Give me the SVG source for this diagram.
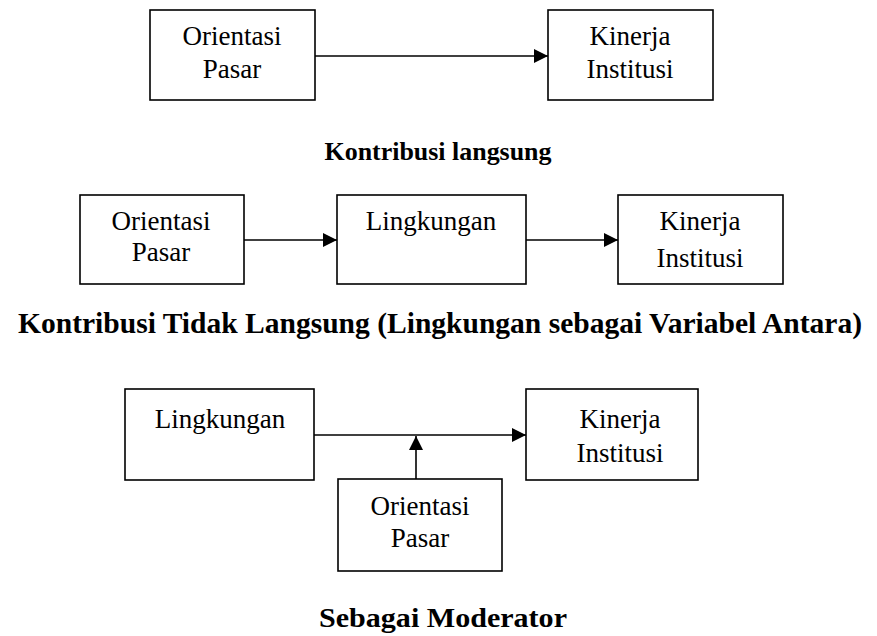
<svg xmlns="http://www.w3.org/2000/svg" width="877" height="636" viewBox="0 0 877 636">
<style>
.box{fill:#fff;stroke:#000;stroke-width:1.6}
.t{font-family:'Liberation Serif','DejaVu Serif','Times New Roman',serif;font-size:27px;fill:#000;text-anchor:middle}
.cap{font-family:'Liberation Serif','DejaVu Serif','Times New Roman',serif;font-weight:bold;fill:#000;text-anchor:middle}
.ln{stroke:#000;stroke-width:1.6;fill:none;marker-end:url(#ah)}
</style>
<defs>
<marker id="ah" markerUnits="userSpaceOnUse" markerWidth="15" markerHeight="15" refX="14" refY="7" orient="auto">
<path d="M0,0 L14,7 L0,14 Z" fill="#000"/>
</marker>
</defs>
<rect width="877" height="636" fill="#fff"/>

<g id="connectors">
<line class="ln" x1="315" y1="56" x2="548" y2="56"/>
<line class="ln" x1="244" y1="240" x2="337" y2="240"/>
<line class="ln" x1="526" y1="240" x2="618" y2="240"/>
<line class="ln" x1="314" y1="435" x2="526" y2="435"/>
<line class="ln" x1="416" y1="479" x2="416" y2="436"/>
</g>

<g id="r1-orientasi">
<rect class="box" x="150" y="10" width="165" height="90"/>
<text class="t" x="232" y="45" font-family="Liberation Serif, serif">Orientasi</text>
<text class="t" x="232" y="78" font-family="Liberation Serif, serif">Pasar</text>
</g>
<g id="r1-kinerja">
<rect class="box" x="548" y="10" width="165" height="90"/>
<text class="t" x="630" y="45">Kinerja</text>
<text class="t" x="630" y="78">Institusi</text>
</g>
<g id="cap1">
<text class="cap" x="438" y="160" font-size="26" textLength="227" lengthAdjust="spacingAndGlyphs">Kontribusi langsung</text>
</g>

<g id="r2-orientasi">
<rect class="box" x="80" y="195" width="164" height="89"/>
<text class="t" x="161" y="230">Orientasi</text>
<text class="t" x="161" y="261">Pasar</text>
</g>
<g id="r2-lingkungan">
<rect class="box" x="337" y="195" width="189" height="89"/>
<text class="t" x="431" y="230">Lingkungan</text>
</g>
<g id="r2-kinerja">
<rect class="box" x="618" y="195" width="165" height="89"/>
<text class="t" x="700" y="230" font-size="28">Kinerja</text>
<text class="t" x="700" y="267" font-size="28">Institusi</text>
</g>
<g id="cap2">
<text class="cap" x="440" y="333" font-size="29" textLength="844" lengthAdjust="spacingAndGlyphs">Kontribusi Tidak Langsung (Lingkungan sebagai Variabel Antara)</text>
</g>

<g id="r3-lingkungan">
<rect class="box" x="125" y="389" width="189" height="91"/>
<text class="t" x="220" y="428">Lingkungan</text>
</g>
<g id="r3-kinerja">
<rect class="box" x="526" y="389" width="172" height="91"/>
<text class="t" x="620" y="428" font-size="28">Kinerja</text>
<text class="t" x="620" y="462" font-size="28">Institusi</text>
</g>
<g id="r3-orientasi">
<rect class="box" x="338" y="479" width="164" height="92"/>
<text class="t" x="420" y="515">Orientasi</text>
<text class="t" x="420" y="547">Pasar</text>
</g>
<g id="cap3">
<text class="cap" x="443" y="627" font-size="28" textLength="248" lengthAdjust="spacingAndGlyphs">Sebagai Moderator</text>
</g>
</svg>
